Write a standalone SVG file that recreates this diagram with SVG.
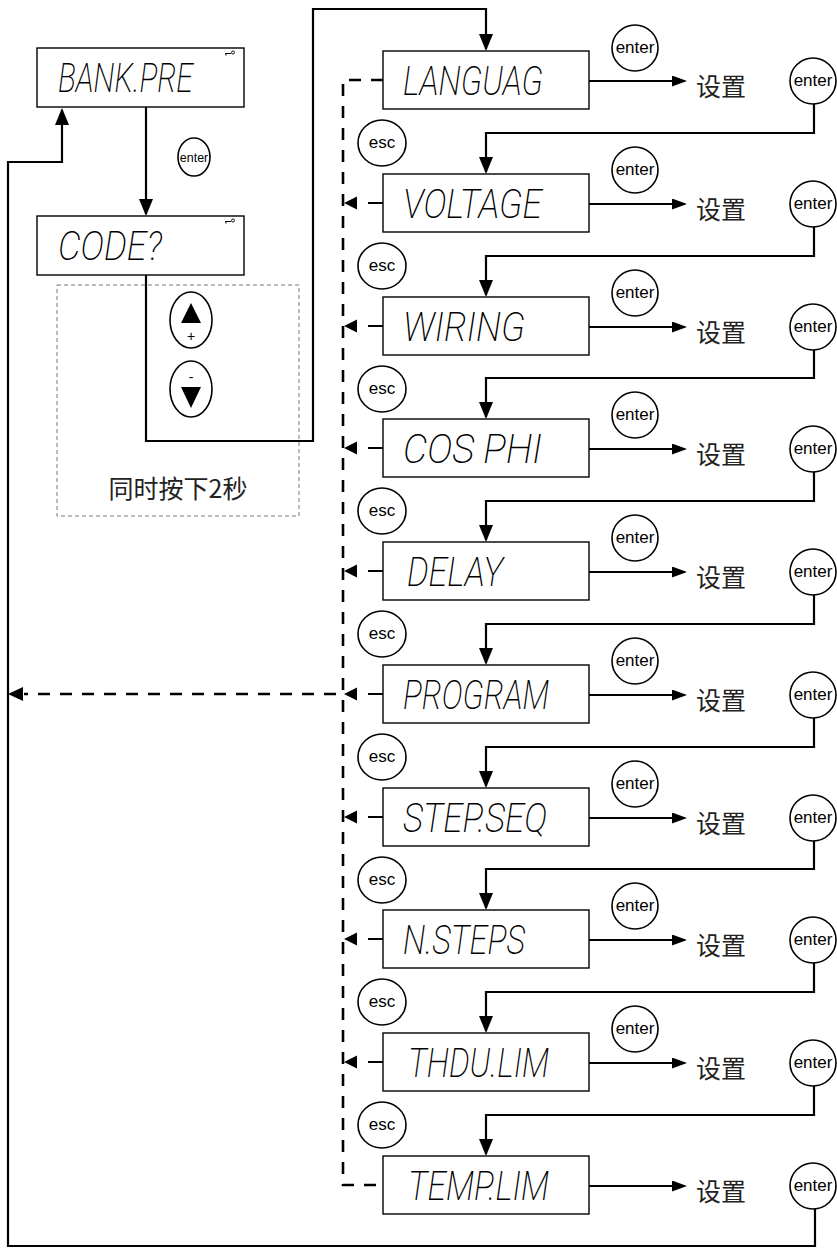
<svg xmlns="http://www.w3.org/2000/svg" width="837" height="1259" viewBox="0 0 837 1259">
<style>
.box{fill:#fff;stroke:#000;stroke-width:1.4}
.lcd{font-family:Roboto,"Liberation Sans",sans-serif;font-weight:200;font-style:italic;font-size:40px;fill:#000}
.btn{fill:#fff;stroke:#000;stroke-width:1.6}
.bt{font-family:"Liberation Sans",Arial,sans-serif;font-size:17px;fill:#000;text-anchor:middle}
.cn{font-family:"Noto Sans CJK SC",sans-serif;font-size:25px;fill:#222}
.ln{fill:none;stroke:#000;stroke-width:2.2}
.ln2{fill:none;stroke:#000;stroke-width:2}
.dash{fill:none;stroke:#000;stroke-width:2.6;stroke-dasharray:12 10}
.tri{fill:#000}
</style>
<defs>
<marker id="ad" markerUnits="userSpaceOnUse" markerWidth="17" markerHeight="14" viewBox="0 0 17 14" refX="15" refY="7" orient="auto">
<path d="M0,0 L17,7 L0,14 z" fill="#000"/>
</marker>
<marker id="ar" markerUnits="userSpaceOnUse" markerWidth="15" markerHeight="11" viewBox="0 0 15 11" refX="13" refY="5.5" orient="auto">
<path d="M0,0 L15,5.5 L0,11 z" fill="#000"/>
</marker>
<g id="key"><path d="M0,2.5 H6 M1,2.5 V4.5" stroke="#000" stroke-width="1" fill="none"/><circle cx="8" cy="1.5" r="1.5" fill="none" stroke="#000" stroke-width="0.9"/></g>
</defs>

<g id="connectors">
<path class="ln" d="M146,107 V214" marker-end="url(#ad)"/>
<path class="ln" d="M146,275 V441 H313 V9 H486 V49" marker-end="url(#ad)"/>
<path class="ln" d="M815,1209 V1246 H8 V162 H62 V110" marker-end="url(#ad)"/>
<path class="ln" d="M814,104 V133 H486 V172" marker-end="url(#ad)"/>
<path class="ln" d="M814,227 V256 H486 V295" marker-end="url(#ad)"/>
<path class="ln" d="M814,350 V378 H486 V417" marker-end="url(#ad)"/>
<path class="ln" d="M814,472 V501 H486 V540" marker-end="url(#ad)"/>
<path class="ln" d="M814,595 V624 H486 V663" marker-end="url(#ad)"/>
<path class="ln" d="M814,718 V747 H486 V786" marker-end="url(#ad)"/>
<path class="ln" d="M814,841 V869 H486 V908" marker-end="url(#ad)"/>
<path class="ln" d="M814,963 V992 H486 V1031" marker-end="url(#ad)"/>
<path class="ln" d="M814,1086 V1115 H486 V1154" marker-end="url(#ad)"/>
<path class="ln2" d="M589,81 H685" marker-end="url(#ar)"/>
<path class="ln2" d="M589,204 H685" marker-end="url(#ar)"/>
<path class="ln2" d="M589,327 H685" marker-end="url(#ar)"/>
<path class="ln2" d="M589,449 H685" marker-end="url(#ar)"/>
<path class="ln2" d="M589,572 H685" marker-end="url(#ar)"/>
<path class="ln2" d="M589,695 H685" marker-end="url(#ar)"/>
<path class="ln2" d="M589,818 H685" marker-end="url(#ar)"/>
<path class="ln2" d="M589,940 H685" marker-end="url(#ar)"/>
<path class="ln2" d="M589,1063 H685" marker-end="url(#ar)"/>
<path class="ln2" d="M589,1186 H685" marker-end="url(#ar)"/>
<path class="dash" d="M383,80 H343 V1185 H383"/>
<path class="dash" d="M336,694 H24"/>
<polygon class="tri" points="8,694 23,687 23,701"/>
<g id="esc-arrows">
<polygon class="tri" points="344,203 357,196.5 357,209.5"/><path class="ln2" d="M368,203 H383"/>
<polygon class="tri" points="344,326 357,319.5 357,332.5"/><path class="ln2" d="M368,326 H383"/>
<polygon class="tri" points="344,448 357,441.5 357,454.5"/><path class="ln2" d="M368,448 H383"/>
<polygon class="tri" points="344,571 357,564.5 357,577.5"/><path class="ln2" d="M368,571 H383"/>
<polygon class="tri" points="344,694 357,687.5 357,700.5"/><path class="ln2" d="M368,694 H383"/>
<polygon class="tri" points="344,817 357,810.5 357,823.5"/><path class="ln2" d="M368,817 H383"/>
<polygon class="tri" points="344,939 357,932.5 357,945.5"/><path class="ln2" d="M368,939 H383"/>
<polygon class="tri" points="344,1062 357,1055.5 357,1068.5"/><path class="ln2" d="M368,1062 H383"/>
</g>
</g>

<g id="bankpre"><rect class="box" x="37" y="48" width="207" height="59"/><text class="lcd" x="58" y="92" textLength="135" lengthAdjust="spacingAndGlyphs">BANK.PRE</text><use href="#key" x="225" y="51"/></g>
<g id="enter-0"><ellipse class="btn" cx="194" cy="157" rx="16" ry="19"/><text class="bt" x="194" y="161.5" style="font-size:12.5px">enter</text></g>
<g id="code"><rect class="box" x="37" y="216" width="207" height="59"/><text class="lcd" x="58" y="260" textLength="104" lengthAdjust="spacingAndGlyphs">CODE?</text><use href="#key" x="225" y="219"/></g>

<g id="keys-hint">
<rect x="57" y="285" width="242" height="231" fill="none" stroke="#777" stroke-width="1" stroke-dasharray="4 3"/>
<g id="btn-up"><ellipse class="btn" cx="191" cy="320" rx="21" ry="28"/><polygon class="tri" points="191,303 201,323 181,323"/><text class="bt" x="191" y="341" style="font-size:14px">+</text></g>
<g id="btn-down"><ellipse class="btn" cx="191" cy="389" rx="21" ry="28"/><polygon class="tri" points="181,387 201,387 191,408"/><text class="bt" x="191" y="382" style="font-size:14px">-</text></g>
<text class="cn" x="178" y="498" text-anchor="middle">同时按下2秒</text>
</g>

<g id="languag"><rect class="box" x="383" y="51" width="206" height="58"/><text class="lcd" x="403" y="94.5" textLength="140" lengthAdjust="spacingAndGlyphs">LANGUAG</text></g>
<g id="voltage"><rect class="box" x="383" y="174" width="206" height="58"/><text class="lcd" x="403" y="217.5" textLength="139" lengthAdjust="spacingAndGlyphs">VOLTAGE</text></g>
<g id="wiring"><rect class="box" x="383" y="297" width="206" height="58"/><text class="lcd" x="403" y="340.5" textLength="122" lengthAdjust="spacingAndGlyphs">WIRING</text></g>
<g id="cosphi"><rect class="box" x="383" y="419" width="206" height="58"/><text class="lcd" x="403" y="462.5" textLength="139" lengthAdjust="spacingAndGlyphs">COS PHI</text></g>
<g id="delay"><rect class="box" x="383" y="542" width="206" height="58"/><text class="lcd" x="407" y="585.5" textLength="96" lengthAdjust="spacingAndGlyphs">DELAY</text></g>
<g id="program"><rect class="box" x="383" y="665" width="206" height="58"/><text class="lcd" x="403" y="708.5" textLength="146" lengthAdjust="spacingAndGlyphs">PROGRAM</text></g>
<g id="stepseq"><rect class="box" x="383" y="788" width="206" height="58"/><text class="lcd" x="403" y="831.5" textLength="144" lengthAdjust="spacingAndGlyphs">STEP.SEQ</text></g>
<g id="nsteps"><rect class="box" x="383" y="910" width="206" height="58"/><text class="lcd" x="403" y="953.5" textLength="122" lengthAdjust="spacingAndGlyphs">N.STEPS</text></g>
<g id="thdulim"><rect class="box" x="383" y="1033" width="206" height="58"/><text class="lcd" x="408" y="1076.5" textLength="141" lengthAdjust="spacingAndGlyphs">THDU.LIM</text></g>
<g id="templim"><rect class="box" x="383" y="1156" width="206" height="58"/><text class="lcd" x="408" y="1199.5" textLength="141" lengthAdjust="spacingAndGlyphs">TEMP.LIM</text></g>

<g id="enter-top">
<g><circle class="btn" cx="635" cy="48" r="23"/><text class="bt" x="635" y="53">enter</text></g>
<g><circle class="btn" cx="635" cy="170" r="23"/><text class="bt" x="635" y="175">enter</text></g>
<g><circle class="btn" cx="635" cy="293" r="23"/><text class="bt" x="635" y="298">enter</text></g>
<g><circle class="btn" cx="635" cy="415" r="23"/><text class="bt" x="635" y="420">enter</text></g>
<g><circle class="btn" cx="635" cy="538" r="23"/><text class="bt" x="635" y="543">enter</text></g>
<g><circle class="btn" cx="635" cy="661" r="23"/><text class="bt" x="635" y="666">enter</text></g>
<g><circle class="btn" cx="635" cy="784" r="23"/><text class="bt" x="635" y="789">enter</text></g>
<g><circle class="btn" cx="635" cy="906" r="23"/><text class="bt" x="635" y="911">enter</text></g>
<g><circle class="btn" cx="635" cy="1029" r="23"/><text class="bt" x="635" y="1034">enter</text></g>
</g>

<g id="esc-buttons">
<g><ellipse class="btn" cx="382" cy="143" rx="24" ry="23"/><text class="bt" x="382" y="148">esc</text></g>
<g><ellipse class="btn" cx="382" cy="266" rx="24" ry="23"/><text class="bt" x="382" y="271">esc</text></g>
<g><ellipse class="btn" cx="382" cy="389" rx="24" ry="23"/><text class="bt" x="382" y="394">esc</text></g>
<g><ellipse class="btn" cx="382" cy="511" rx="24" ry="23"/><text class="bt" x="382" y="516">esc</text></g>
<g><ellipse class="btn" cx="382" cy="634" rx="24" ry="23"/><text class="bt" x="382" y="639">esc</text></g>
<g><ellipse class="btn" cx="382" cy="757" rx="24" ry="23"/><text class="bt" x="382" y="762">esc</text></g>
<g><ellipse class="btn" cx="382" cy="880" rx="24" ry="23"/><text class="bt" x="382" y="885">esc</text></g>
<g><ellipse class="btn" cx="382" cy="1002" rx="24" ry="23"/><text class="bt" x="382" y="1007">esc</text></g>
<g><ellipse class="btn" cx="382" cy="1125" rx="24" ry="23"/><text class="bt" x="382" y="1130">esc</text></g>
</g>

<g id="settings">
<text class="cn" x="696" y="96">设置</text>
<text class="cn" x="696" y="219">设置</text>
<text class="cn" x="696" y="342">设置</text>
<text class="cn" x="696" y="464">设置</text>
<text class="cn" x="696" y="587">设置</text>
<text class="cn" x="696" y="710">设置</text>
<text class="cn" x="696" y="833">设置</text>
<text class="cn" x="696" y="955">设置</text>
<text class="cn" x="696" y="1078">设置</text>
<text class="cn" x="696" y="1201">设置</text>
</g>

<g id="enter-right">
<g><circle class="btn" cx="813" cy="81" r="23"/><text class="bt" x="813" y="86">enter</text></g>
<g><circle class="btn" cx="813" cy="204" r="23"/><text class="bt" x="813" y="209">enter</text></g>
<g><circle class="btn" cx="813" cy="327" r="23"/><text class="bt" x="813" y="332">enter</text></g>
<g><circle class="btn" cx="813" cy="449" r="23"/><text class="bt" x="813" y="454">enter</text></g>
<g><circle class="btn" cx="813" cy="572" r="23"/><text class="bt" x="813" y="577">enter</text></g>
<g><circle class="btn" cx="813" cy="695" r="23"/><text class="bt" x="813" y="700">enter</text></g>
<g><circle class="btn" cx="813" cy="818" r="23"/><text class="bt" x="813" y="823">enter</text></g>
<g><circle class="btn" cx="813" cy="940" r="23"/><text class="bt" x="813" y="945">enter</text></g>
<g><circle class="btn" cx="813" cy="1063" r="23"/><text class="bt" x="813" y="1068">enter</text></g>
<g><circle class="btn" cx="813" cy="1186" r="23"/><text class="bt" x="813" y="1191">enter</text></g>
</g>
</svg>
